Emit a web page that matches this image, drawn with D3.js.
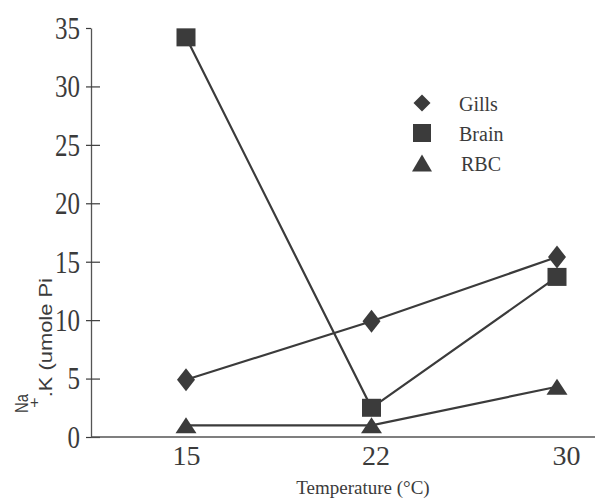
<!DOCTYPE html>
<html>
<head>
<meta charset="utf-8">
<script src="https://cdn.jsdelivr.net/npm/d3@7"></script>
<style>
  body { margin: 0; background: #fff; }
  svg { display: block; font-family: "Liberation Serif", "Times New Roman", serif; }
</style>
</head>
<body>
<svg id="chart" width="595" height="498"></svg>
<script>
// data
var temps = ["15", "22", "30"];
var gills = [4.9, 9.9, 15.4];
var brain = [34.2, 2.5, 13.7];
var rbc = [1.0, 1.0, 4.3];
var yTicks = [0, 5, 10, 15, 20, 25, 30, 35];
var seriesNames = ["Gills", "Brain", "RBC"];

var ink = "#3b3b3b";
var svg = d3.select("#chart");

var x = d3.scalePoint().domain(temps).range([186, 557]);
var y = d3.scaleLinear().domain([0, 35]).range([437, 28]);

var axisX = 91;

// y axis
var gy = svg.append("g")
	.attr("transform", "translate(" + axisX + ",0)")
	.call(d3.axisLeft(y).tickValues(yTicks).tickSize(5).tickSizeOuter(0).tickPadding(6));
gy.select(".domain").attr("stroke", "#555").attr("stroke-width", 1.3);
gy.selectAll(".tick line").attr("stroke", ink).attr("stroke-width", 1.2)
	.attr("x1", function(d) { return d == 35 ? 0 : 9; });
gy.selectAll(".tick text")
	.attr("fill", ink)
	.style("font-size", "25px")
	.style("font-family", "Liberation Serif")
	.attr("transform", "scale(1,1.3)");

// x axis
svg.append("line")
	.attr("x1", axisX).attr("x2", 595)
	.attr("y1", y(0)).attr("y2", y(0))
	.attr("stroke", "#555").attr("stroke-width", 1.5);

var gx = svg.append("g")
	.attr("transform", "translate(0," + y(0) + ")")
	.call(d3.axisBottom(x).tickSize(0).tickPadding(8));
gx.select(".domain").remove();
gx.selectAll(".tick text")
	.attr("fill", ink)
	.attr("dx", function(d, i) { return [0, 4, 9][i]; })
	.style("font-size", "28px")
	.style("font-family", "Liberation Serif");

svg.append("text")
	.attr("x", 363).attr("y", 494)
	.attr("text-anchor", "middle")
	.attr("fill", ink)
	.style("font-size", "19px")
	.text("Temperature (°C)");

// y label, two rotated lines
svg.append("text")
	.attr("transform", "translate(28,413) rotate(-90)")
	.attr("fill", ink)
	.style("font-family", "Liberation Sans")
	.style("font-size", "18px")
	.attr("textLength", 19).attr("lengthAdjust", "spacingAndGlyphs")
	.text("Na");

var yl = svg.append("text")
	.attr("transform", "translate(52,408) rotate(-90)")
	.attr("fill", ink)
	.style("font-family", "Liberation Sans")
	.style("font-size", "18px")
	.attr("textLength", 130).attr("lengthAdjust", "spacingAndGlyphs");
yl.append("tspan").attr("dy", -13).style("font-size", "15px").text("+");
yl.append("tspan").attr("dy", 13).text(".K (umole Pi");

// lines
var line = d3.line().x(function(d, i) { return x(temps[i]); }).y(function(d) { return y(d); });
[gills, brain, rbc].forEach(function(s) {
	svg.append("path")
		.datum(s)
		.attr("d", line)
		.attr("fill", "none")
		.attr("stroke", ink)
		.attr("stroke-width", 2.2);
});

// markers
function diamond(g, w, h) {
	g.append("path")
		.attr("d", "M0," + (-h/2) + "L" + (w/2) + ",0L0," + (h/2) + "L" + (-w/2) + ",0Z")
		.attr("fill", ink);
}
function square(g, w, h) {
	g.append("rect").attr("x", -w/2).attr("y", -h/2).attr("width", w).attr("height", h).attr("fill", ink);
}
function triangle(g, w, h) {
	g.append("path")
		.attr("d", "M0," + (-h/2) + "L" + (w/2) + "," + (h/2) + "L" + (-w/2) + "," + (h/2) + "Z")
		.attr("fill", ink);
}

var shapes = [diamond, square, triangle];
var sizes = [[18, 23], [19, 18], [21, 16]];

[gills, brain, rbc].forEach(function(s, k) {
	svg.append("g").selectAll("g")
		.data(s)
		.enter()
		.append("g")
		.attr("transform", function(d, i) { return "translate(" + x(temps[i]) + "," + y(d) + ")"; })
		.each(function() { shapes[k](d3.select(this), sizes[k][0], sizes[k][1]); });
});

// legend
var legend = svg.append("g").attr("transform", "translate(422,103)");
var legSizes = [[17, 17], [18, 18], [20, 17]];
seriesNames.forEach(function(n, i) {
	var row = legend.append("g").attr("transform", "translate(0," + (i * 30) + ")");
	shapes[i](row, legSizes[i][0], legSizes[i][1]);
	row.append("text")
		.attr("x", 37 + (i == 2 ? 2 : 0)).attr("y", 8)
		.attr("fill", ink)
		.style("font-size", "20px")
		.text(n);
});
</script>
</body>
</html>
